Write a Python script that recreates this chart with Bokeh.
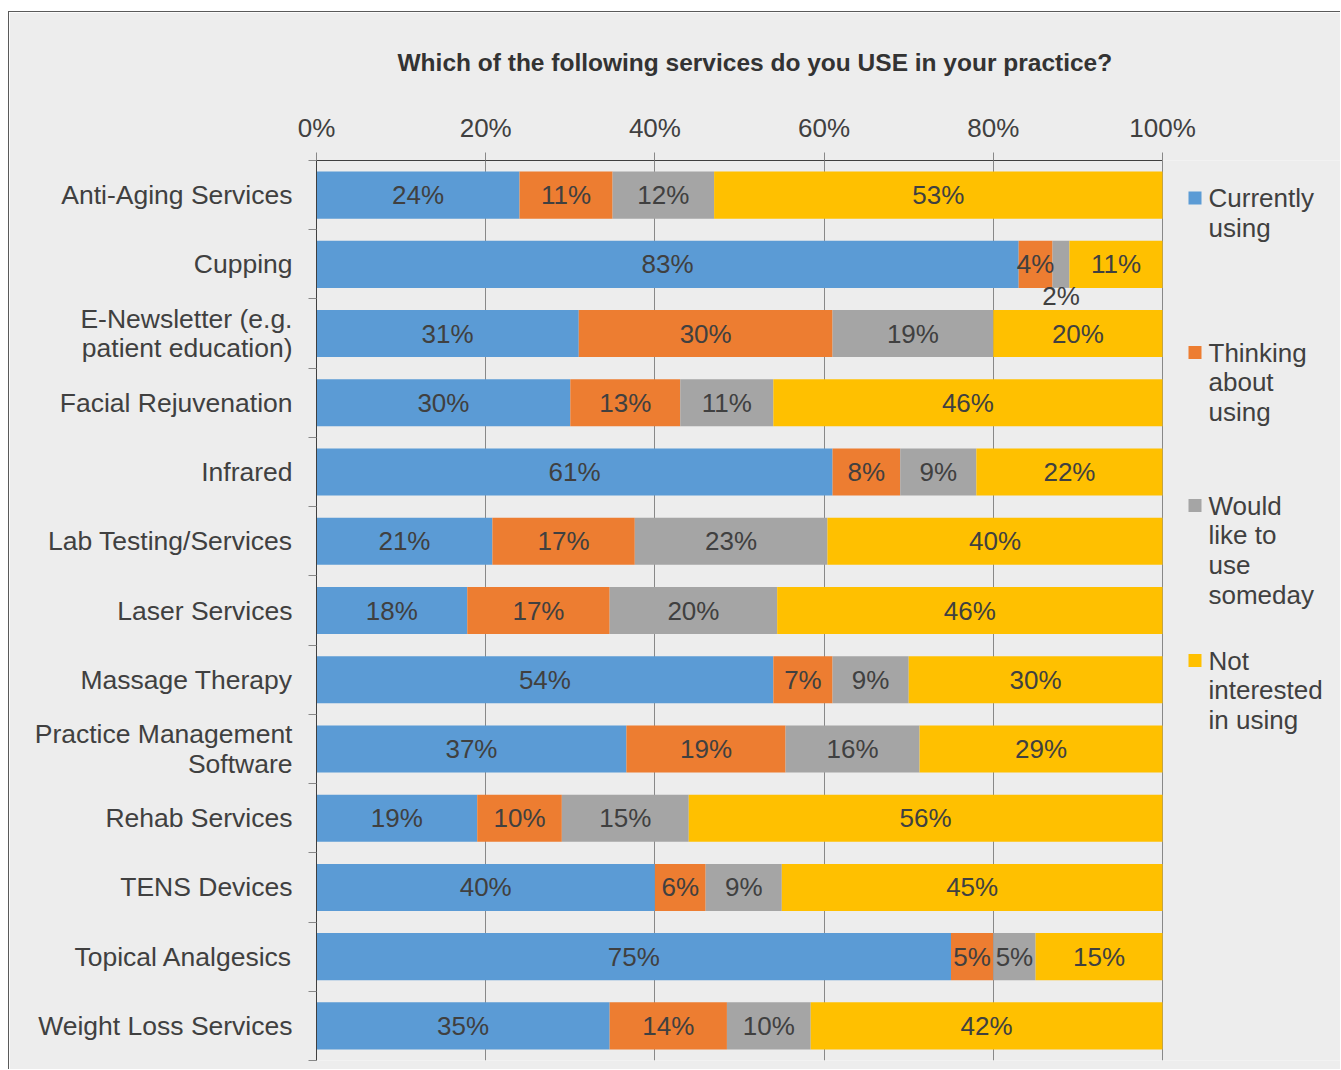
from bokeh.plotting import figure
from bokeh.models import Range1d, LinearAxis, FixedTicker, NumeralTickFormatter, ColumnDataSource, Title, Grid
from bokeh.core.properties import value
from bokeh.embed import file_html
from bokeh.resources import INLINE

# ---------------- data ----------------
categories = [
    "Anti-Aging Services", "Cupping", "E-Newsletter (e.g.\npatient education)",
    "Facial Rejuvenation", "Infrared", "Lab Testing/Services", "Laser Services",
    "Massage Therapy", "Practice Management\nSoftware", "Rehab Services",
    "TENS Devices", "Topical Analgesics", "Weight Loss Services",
]
currently_using = [24, 83, 31, 30, 61, 21, 18, 54, 37, 19, 40, 75, 35]
thinking_about = [11, 4, 30, 13, 8, 17, 17, 7, 19, 10, 6, 5, 14]
like_someday = [12, 2, 19, 11, 9, 23, 20, 9, 16, 15, 9, 5, 10]
not_interested = [53, 11, 20, 46, 22, 40, 46, 30, 29, 56, 45, 15, 42]
legend_labels = ["Currently\nusing", "Thinking\nabout\nusing", "Would\nlike to\nuse\nsomeday", "Not\ninterested\nin using"]
colors = ["#5B9BD5", "#ED7D31", "#A5A5A5", "#FFC000"]
x_ticks = [0, 0.2, 0.4, 0.6, 0.8, 1.0]
title_text = "Which of the following services do you USE in your practice?"

FONT = "Liberation Sans"
TXT = "#404040"

# ---------------- geometry (pixels) ----------------
W, H = 1332, 1058
FRAME_L, FRAME_T, FRAME_B = 307, 148, 1048
PX_PER_X = 846.0
frame_w = W - FRAME_L
x_max = frame_w / PX_PER_X
n = len(categories)
px_per_row = (FRAME_B - FRAME_T) / n

def py2y(py):  # py measured from frame top
    return 0.5 + py / px_per_row

def px2x(px):  # px measured from frame left
    return px / PX_PER_X

p = figure(width=W, height=H, output_backend="svg", toolbar_location=None,
           x_range=Range1d(0, x_max), y_range=Range1d(n + 0.5, 0.5),
           x_axis_location=None, y_axis_location=None,
           min_border_left=FRAME_L, min_border_right=0, min_border_top=FRAME_T,
           min_border_bottom=H - FRAME_B,
           background_fill_color="#EDEDED", border_fill_color="#EDEDED",
           outline_line_color=None)
p.margin = (11, 0, 0, 8)
p.styles = {"border-left": "1px solid #5a5a5a", "border-top": "1px solid #5a5a5a"}

# top axis
xaxis = LinearAxis(ticker=FixedTicker(ticks=x_ticks), formatter=NumeralTickFormatter(format="0%"),
                   bounds=(0, 1), axis_line_color=TXT, axis_line_width=1,
                   major_tick_line_color="#888888", major_tick_out=8, major_tick_in=0,
                   minor_tick_line_color=None,
                   major_label_text_font=FONT, major_label_text_font_size="26px",
                   major_label_text_color=TXT, major_label_standoff=10)
p.add_layout(xaxis, "above")

rows = list(range(1, n + 1))
yaxis = LinearAxis(ticker=FixedTicker(ticks=rows, minor_ticks=[r - 0.5 for r in rows] + [n + 0.5]),
                   major_label_overrides={r: c for r, c in zip(rows, categories)},
                   axis_line_color=TXT, axis_line_width=1,
                   major_tick_line_color=None, major_tick_out=0, major_tick_in=0,
                   minor_tick_line_color="#888888", minor_tick_out=8, minor_tick_in=0,
                   major_label_text_font=FONT, major_label_text_font_size="26.5px",
                   major_label_text_line_height=0.99,
                   major_label_text_color=TXT, major_label_standoff=16)
p.add_layout(yaxis, "left")

p.xgrid.visible = False
p.ygrid.visible = False
p.add_layout(Grid(dimension=0, ticker=FixedTicker(ticks=x_ticks), grid_line_color="#888888", grid_line_width=1))

# bars
series = [currently_using, thinking_about, like_someday, not_interested]
totals = [sum(s[i] for s in series) for i in range(n)]
cum = [0.0] * n
lab_x, lab_y, lab_t = [], [], []
for s, col in zip(series, colors):
    left = cum[:]
    right = [cum[i] + s[i] / totals[i] for i in range(n)]
    cum = right
    src = ColumnDataSource(dict(y=rows, left=left, right=right))
    p.hbar(y="y", left="left", right="right", height=0.68, source=src,
           fill_color=col, line_color=None)
    for i in range(n):
        lab_x.append((left[i] + right[i]) / 2)
        frac = s[i] / totals[i]
        lab_y.append(rows[i] + (0.45 if frac < 0.03 else 0))
        lab_t.append(f"{s[i]}%")

p.text(x=lab_x, y=lab_y, text=lab_t, text_align="center", text_baseline="middle",
       text_font=value(FONT), text_font_size="26px", text_color=TXT)

# legend (drawn inside the extended frame area)
leg_py = [197.5 - 160, 352 - 160, 505 - 160, 660 - 160]
p.scatter(x=[px2x(1194.5 - 316)] * 4, y=[py2y(v) for v in leg_py], marker="square", size=13,
          fill_color=colors, line_color=None)
p.text(x=[px2x(1208 - 316)] * 4, y=[py2y(v - 15) for v in leg_py], text=legend_labels,
       text_align="left", text_baseline="top", text_line_height=0.99,
       text_font=value(FONT), text_font_size="26px", text_color=TXT)

# title
p.add_layout(Title(text=title_text, align="left", offset=81, standoff=68,
                   text_font=FONT, text_font_size="24.5px", text_font_style="bold",
                   text_color="#333333"), "above")

open("out.html", "w").write(file_html(p, INLINE))
